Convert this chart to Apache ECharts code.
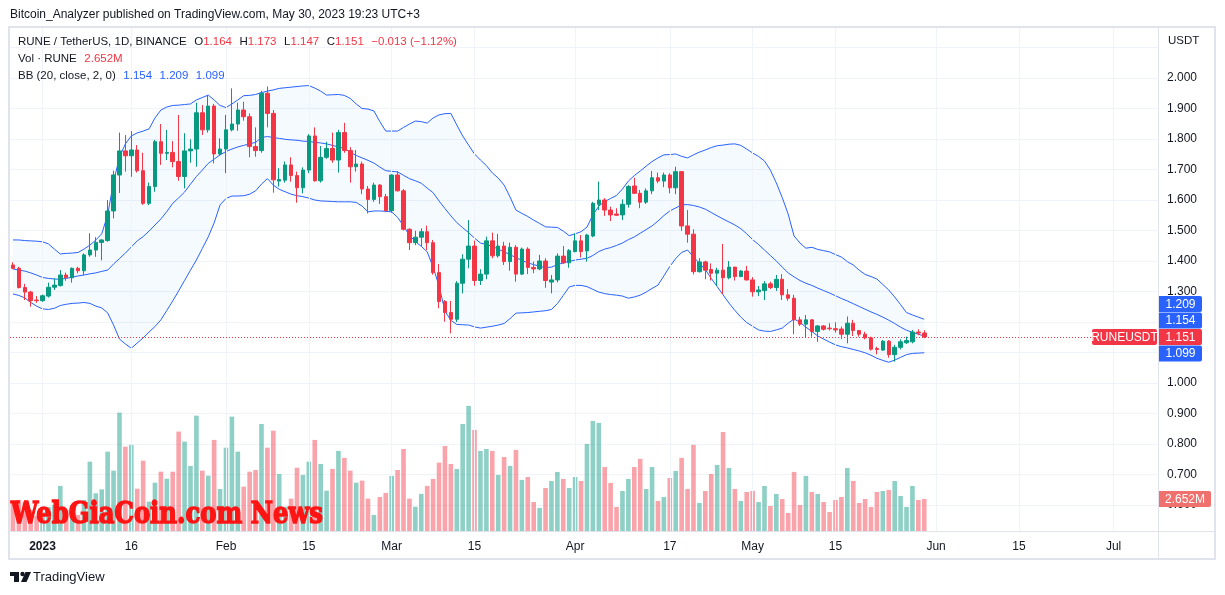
<!DOCTYPE html>
<html><head><meta charset="utf-8">
<script src="https://cdn.jsdelivr.net/npm/echarts@6/dist/echarts.min.js"></script>
<style>html,body{margin:0;padding:0;background:#fff;}#c{width:1225px;height:595px;}</style>
</head><body><div id="c"></div>
<script>
// ---------- data ----------
const publishLine = 'Bitcoin_Analyzer published on TradingView.com, May 30, 2023 19:23 UTC+3';
const symbolTitle = 'RUNE / TetherUS, 1D, BINANCE';
const volTitle = 'Vol \u00b7 RUNE';
const bbTitle = 'BB (20, close, 2, 0)';
const unitLabel = 'USDT';
const tickerLabel = 'RUNEUSDT';
const watermark = 'WebGiaCoin.com News';
const firstDate = '2022-12-27';
const categoryCount = 194;

const tickDates = ['2023-01-01','2023-01-16','2023-02-01','2023-02-15','2023-03-01','2023-03-15','2023-04-01','2023-04-17','2023-05-01','2023-05-15','2023-06-01','2023-06-15','2023-07-01'];
const tickTexts = ['2023','16','Feb','15','Mar','15','Apr','17','May','15','Jun','15','Jul'];

const opens = [1.387,1.376,1.313,1.298,1.272,
1.270,1.285,1.314,1.320,1.354,1.345,1.376,1.368,1.420,1.436,1.461,1.467,1.564,1.682,1.761,1.745,1.764,1.696,1.589,1.644,1.791,1.753,1.756,1.726,1.677,1.761,1.767,1.886,1.830,1.908,1.751,
1.767,1.830,1.849,1.895,1.873,1.775,1.762,1.950,1.884,1.662,1.665,1.715,1.680,1.640,1.698,1.810,1.663,1.740,1.769,1.731,1.821,1.762,1.709,1.718,1.636,1.602,1.649,1.611,
1.565,1.682,1.630,1.504,1.460,1.478,1.496,1.460,1.362,1.267,1.231,1.209,1.327,1.406,1.449,1.336,1.357,1.466,1.417,1.449,1.398,1.445,1.357,1.439,1.379,1.374,1.400,1.331,1.338,1.416,1.394,
1.431,1.466,1.433,1.482,1.586,1.600,1.567,1.554,1.551,1.586,1.646,1.622,1.593,1.630,1.673,1.662,1.682,1.640,1.693,1.515,1.488,1.365,1.397,1.372,1.360,1.370,1.345,1.380,1.349,1.367,
1.338,1.299,1.303,1.325,1.313,1.340,1.289,1.278,1.207,1.193,1.207,1.169,1.187,1.180,1.178,1.177,1.160,1.196,1.172,1.160,1.148,1.113,1.108,1.137,1.093,1.117,1.132,1.135,1.167,1.164];

const closes = [1.376,1.313,1.298,1.270,1.270,
1.286,1.314,1.321,1.354,1.345,1.376,1.368,1.420,1.436,1.461,1.469,1.564,1.682,1.761,1.745,1.764,1.696,1.589,1.644,1.791,1.753,1.756,1.726,1.677,1.761,1.767,1.886,1.830,1.908,1.751,1.767,
1.830,1.849,1.895,1.873,1.775,1.762,1.950,1.884,1.666,1.667,1.715,1.680,1.640,1.698,1.810,1.663,1.740,1.769,1.731,1.821,1.762,1.709,1.718,1.636,1.602,1.649,1.611,1.565,
1.682,1.630,1.504,1.460,1.478,1.496,1.460,1.362,1.267,1.231,1.209,1.327,1.406,1.449,1.336,1.357,1.466,1.417,1.449,1.398,1.445,1.357,1.439,1.379,1.374,1.400,1.336,1.338,1.416,1.394,1.434,
1.466,1.431,1.485,1.589,1.600,1.567,1.551,1.550,1.586,1.644,1.622,1.593,1.630,1.673,1.662,1.682,1.640,1.693,1.515,1.488,1.365,1.397,1.370,1.360,1.370,1.345,1.380,1.349,1.367,1.338,
1.299,1.305,1.325,1.313,1.340,1.289,1.278,1.207,1.193,1.207,1.169,1.187,1.176,1.178,1.174,1.160,1.196,1.172,1.160,1.148,1.111,1.110,1.137,1.093,1.117,1.135,1.139,1.167,1.164,1.151];

const highs = [1.396,1.381,1.325,1.302,1.285,
1.290,1.329,1.343,1.370,1.362,1.379,1.381,1.425,1.491,1.478,1.471,1.600,1.696,1.821,1.813,1.826,1.780,1.755,1.657,1.797,1.849,1.830,1.793,1.879,1.819,1.799,1.919,1.911,1.944,1.915,1.802,
1.879,1.966,1.919,1.922,1.884,1.838,1.958,1.972,1.895,1.704,1.726,1.740,1.693,1.707,1.816,1.838,1.777,1.791,1.821,1.830,1.853,1.773,1.764,1.726,1.646,1.657,1.652,1.620,
1.684,1.695,1.636,1.507,1.499,1.507,1.516,1.469,1.390,1.272,1.269,1.334,1.422,1.534,1.467,1.373,1.480,1.493,1.489,1.463,1.460,1.452,1.444,1.445,1.398,1.420,1.409,1.354,1.425,1.449,1.439,
1.491,1.485,1.489,1.594,1.660,1.606,1.578,1.573,1.602,1.649,1.673,1.633,1.638,1.695,1.690,1.690,1.688,1.709,1.695,1.567,1.504,1.409,1.401,1.392,1.378,1.456,1.400,1.381,1.370,1.384,
1.347,1.318,1.334,1.332,1.354,1.357,1.308,1.289,1.217,1.223,1.209,1.190,1.190,1.196,1.199,1.185,1.218,1.207,1.174,1.168,1.152,1.119,1.141,1.141,1.125,1.143,1.152,1.174,1.176,1.173];

const lows = [1.373,1.310,1.272,1.250,1.263,
1.266,1.280,1.305,1.316,1.335,1.329,1.360,1.354,1.414,1.414,1.402,1.463,1.540,1.623,1.693,1.676,1.690,1.584,1.583,1.627,1.715,1.731,1.707,1.663,1.638,1.722,1.709,1.813,1.821,1.720,1.744,
1.688,1.825,1.827,1.860,1.740,1.742,1.755,1.838,1.624,1.644,1.657,1.660,1.591,1.622,1.688,1.660,1.657,1.735,1.722,1.690,1.755,1.657,1.693,1.619,1.556,1.594,1.587,1.560,
1.558,1.628,1.500,1.436,1.452,1.449,1.436,1.355,1.245,1.201,1.163,1.200,1.294,1.376,1.319,1.321,1.340,1.409,1.411,1.387,1.368,1.332,1.354,1.357,1.360,1.370,1.312,1.294,1.330,1.390,1.378,
1.428,1.412,1.398,1.478,1.567,1.548,1.531,1.548,1.534,1.575,1.620,1.573,1.587,1.619,1.655,1.642,1.622,1.619,1.499,1.460,1.356,1.362,1.340,1.336,1.318,1.292,1.340,1.336,1.347,1.336,
1.283,1.285,1.272,1.308,1.302,1.272,1.270,1.160,1.187,1.149,1.152,1.135,1.172,1.172,1.165,1.144,1.130,1.154,1.152,1.143,1.106,1.094,1.105,1.083,1.070,1.110,1.128,1.130,1.157,1.147];

// volume in millions RUNE
const volumes = [2.40,2.57,2.40,1.74,1.24,
1.57,1.99,2.15,3.73,1.74,2.15,1.33,2.57,5.74,3.12,3.45,6.57,5.00,9.80,6.98,7.13,3.50,5.82,2.43,4.00,4.91,4.33,4.91,8.23,7.40,5.39,9.55,5.00,4.58,7.54,3.48,
6.90,9.47,6.57,3.67,4.91,5.05,8.86,6.90,8.31,4.72,2.01,2.68,5.24,4.64,5.74,7.54,5.55,3.34,5.14,6.63,6.05,5.00,4.00,4.17,2.68,1.33,2.82,3.15,
4.56,5.05,6.79,2.68,2.01,3.07,3.73,4.31,5.66,7.04,5.55,5.14,8.86,10.36,8.37,6.63,6.79,6.63,4.64,6.13,5.39,6.71,4.23,4.47,2.40,1.91,3.56,4.14,4.89,4.31,3.56,
4.47,4.14,7.21,9.11,8.95,5.30,3.98,1.99,3.31,4.31,5.30,5.97,3.48,5.30,2.49,2.82,4.39,4.97,6.05,3.48,7.13,2.32,3.31,4.72,5.47,8.20,5.22,3.48,2.49,3.23,
3.31,2.40,3.73,2.07,3.07,2.65,1.49,4.89,2.15,4.56,3.23,3.07,2.40,1.57,2.57,2.82,5.22,4.14,2.32,2.65,1.99,3.23,3.31,3.40,4.14,2.90,1.99,3.73,2.57,2.652];

const bbUpper = [1.469,1.469,1.467,1.466,1.465,
1.463,1.456,1.439,1.423,1.425,1.426,1.428,1.439,1.452,1.469,1.489,1.551,1.659,1.741,1.784,1.810,1.820,1.826,1.833,1.869,1.895,1.905,1.910,1.911,1.913,1.915,1.928,1.936,1.944,1.928,1.910,
1.903,1.915,1.928,1.942,1.943,1.946,1.952,1.957,1.961,1.966,1.968,1.970,1.972,1.974,1.975,1.967,1.957,1.944,1.945,1.946,1.943,1.933,1.915,1.900,1.898,1.892,1.857,1.826,
1.826,1.826,1.838,1.849,1.859,1.857,1.852,1.869,1.879,1.883,1.884,1.846,1.810,1.780,1.751,1.731,1.713,1.689,1.672,1.649,1.610,1.567,1.556,1.546,1.534,1.523,1.512,1.511,1.510,1.498,1.483,
1.489,1.496,1.511,1.551,1.580,1.595,1.605,1.615,1.636,1.662,1.680,1.695,1.711,1.726,1.738,1.748,1.749,1.751,1.743,1.738,1.748,1.757,1.764,1.772,1.778,1.780,1.783,1.784,1.779,1.767,
1.754,1.743,1.728,1.698,1.656,1.608,1.554,1.482,1.459,1.442,1.445,1.438,1.434,1.430,1.421,1.413,1.398,1.387,1.370,1.356,1.349,1.341,1.323,1.305,1.282,1.257,1.231,1.223,1.216,1.209];

const bbBasis = [1.374,1.370,1.367,1.361,1.354,
1.346,1.343,1.341,1.340,1.343,1.347,1.351,1.354,1.358,1.361,1.366,1.370,1.390,1.408,1.426,1.446,1.466,1.480,1.498,1.518,1.538,1.562,1.589,1.607,1.626,1.652,1.677,1.698,1.720,1.734,1.748,
1.759,1.767,1.774,1.779,1.784,1.789,1.805,1.808,1.805,1.802,1.799,1.797,1.796,1.793,1.792,1.789,1.787,1.784,1.779,1.774,1.769,1.757,1.746,1.738,1.730,1.721,1.708,1.696,
1.694,1.692,1.681,1.670,1.663,1.655,1.639,1.624,1.597,1.572,1.548,1.526,1.509,1.493,1.475,1.459,1.454,1.448,1.439,1.430,1.421,1.411,1.402,1.394,1.388,1.383,1.378,1.380,1.388,1.394,1.399,
1.403,1.406,1.409,1.418,1.431,1.439,1.444,1.451,1.459,1.470,1.479,1.491,1.503,1.515,1.531,1.549,1.564,1.574,1.584,1.585,1.582,1.577,1.570,1.559,1.548,1.538,1.528,1.518,1.506,1.489,
1.470,1.454,1.436,1.418,1.400,1.380,1.361,1.348,1.336,1.327,1.320,1.311,1.303,1.295,1.286,1.277,1.269,1.260,1.251,1.242,1.233,1.225,1.216,1.206,1.195,1.183,1.173,1.166,1.160,1.154];

const bbLower = [1.292,1.287,1.279,1.264,1.252,
1.243,1.241,1.245,1.254,1.258,1.261,1.262,1.264,1.261,1.252,1.246,1.230,1.190,1.144,1.128,1.114,1.131,1.148,1.167,1.185,1.207,1.238,1.269,1.302,1.336,1.370,1.403,1.441,1.479,1.525,1.584,
1.605,1.613,1.613,1.614,1.619,1.630,1.652,1.670,1.649,1.635,1.627,1.619,1.614,1.611,1.606,1.600,1.597,1.596,1.595,1.594,1.594,1.594,1.592,1.580,1.561,1.564,1.564,1.563,
1.561,1.543,1.515,1.484,1.464,1.448,1.430,1.380,1.318,1.236,1.205,1.192,1.191,1.190,1.184,1.180,1.183,1.186,1.190,1.195,1.211,1.229,1.230,1.231,1.233,1.235,1.237,1.241,1.260,1.287,1.315,
1.320,1.320,1.316,1.307,1.298,1.293,1.290,1.288,1.285,1.278,1.282,1.288,1.298,1.310,1.321,1.351,1.382,1.408,1.428,1.436,1.413,1.393,1.372,1.343,1.316,1.289,1.262,1.238,1.216,1.198,
1.186,1.174,1.170,1.169,1.174,1.180,1.196,1.210,1.199,1.183,1.169,1.154,1.144,1.134,1.125,1.119,1.115,1.110,1.105,1.099,1.091,1.081,1.074,1.068,1.075,1.084,1.093,1.097,1.098,1.099];

// ---------- styling ----------
const FONT = '"Liberation Sans", Arial, sans-serif';
const C_TEXT = '#131722', C_UP = '#089981', C_DN = '#f23645', C_BB = '#2962ff';
const C_GRID = '#f0f3fa', C_FRAME = '#e0e3eb';

// categories (one per calendar day)
const dates = [];
{
  const t0 = Date.parse(firstDate + 'T00:00:00Z');
  for (let i = 0; i < categoryCount; i++) dates.push(new Date(t0 + i * 86400000).toISOString().slice(0, 10));
}
const tickMap = {};
tickDates.forEach((d, i) => { tickMap[d] = tickTexts[i]; });

const candleData = opens.map((o, i) => [o, closes[i], lows[i], highs[i]]);
const volData = volumes.map((v, i) => ({
  value: v,
  itemStyle: { color: closes[i] >= opens[i] ? 'rgba(8,153,129,0.46)' : 'rgba(242,54,69,0.46)' }
}));
const bbWidth = bbUpper.map((u, i) => +(u - bbLower[i]).toFixed(4));
const nullSeries = dates.map(() => null);

const f3 = v => v.toFixed(3);
const lastO = opens[opens.length - 1], lastH = highs[highs.length - 1], lastL = lows[lows.length - 1], lastC = closes[closes.length - 1];
const prevC = closes[closes.length - 2];
const chg = lastC - prevC;
const minus = '\u2212';
const chgText = (chg < 0 ? minus : '+') + Math.abs(chg).toFixed(3) + ' (' + (chg < 0 ? minus : '+') + Math.abs(chg / prevC * 100).toFixed(2) + '%)';
const lastVol = volumes[volumes.length - 1];

const PRICE_MIN = 0.6, PRICE_MAX = 2.1672;
const VOL_MAX = 12.5;

const chart = echarts.init(document.getElementById('c'), null, { renderer: 'canvas' });

const vGridMark = {
  silent: true, symbol: ['none', 'none'], label: { show: false },
  lineStyle: { color: C_GRID, type: 'solid', width: 1 },
  emphasis: { disabled: true },
  data: tickDates.map(d => ({ xAxis: d })),
  animation: false
};

const option = {
  animation: false,
  backgroundColor: '#ffffff',
  textStyle: { fontFamily: FONT },
  grid: [
    { left: 10, right: 67, top: 27, height: 478, outerBoundsMode: 'none', containLabel: false },
    { left: 10, right: 67, top: 380, height: 151, outerBoundsMode: 'none', containLabel: false }
  ],
  xAxis: [
    { type: 'category', gridIndex: 0, data: dates, boundaryGap: true,
      axisLine: { show: false }, axisTick: { show: false }, axisLabel: { show: false }, splitLine: { show: false } },
    { type: 'category', gridIndex: 1, data: dates, boundaryGap: true,
      axisLine: { show: false }, axisTick: { show: false }, splitLine: { show: false },
      axisLabel: {
        interval: (idx, val) => tickMap[val] !== undefined,
        formatter: val => (val.endsWith('-01-01') ? '{y|' + tickMap[val] + '}' : (tickMap[val] || '')),
        rich: { y: { fontWeight: 'bold', fontSize: 12, color: C_TEXT, fontFamily: FONT } },
        color: C_TEXT, fontSize: 12, fontFamily: FONT, margin: 10
      } }
  ],
  yAxis: [
    { type: 'value', gridIndex: 0, position: 'right', min: PRICE_MIN, max: PRICE_MAX, interval: 0.1,
      axisLine: { show: false }, axisTick: { show: false },
      axisLabel: { color: C_TEXT, fontSize: 12, fontFamily: FONT, margin: 9, showMaxLabel: false,
        formatter: v => (v > 2.05 ? '' : v.toFixed(3)) },
      splitLine: { show: true, showMaxLine: false, lineStyle: { color: C_GRID, width: 1 } } },
    { type: 'value', gridIndex: 1, min: 0, max: VOL_MAX, show: false, splitLine: { show: false } }
  ],
  series: [
    { name: 'gridTop', type: 'line', xAxisIndex: 0, yAxisIndex: 0, data: nullSeries, z: 0, silent: true,
      symbol: 'none', lineStyle: { opacity: 0 }, markLine: vGridMark },
    { name: 'gridBottom', type: 'line', xAxisIndex: 1, yAxisIndex: 1, data: nullSeries, z: 0, silent: true,
      symbol: 'none', lineStyle: { opacity: 0 }, markLine: vGridMark },
    { name: 'Volume', type: 'bar', xAxisIndex: 1, yAxisIndex: 1, data: volData, barWidth: '78%', z: 1, silent: true },
    { name: 'bbBase', type: 'line', xAxisIndex: 0, yAxisIndex: 0, data: bbLower, stack: 'bb', symbol: 'none',
      lineStyle: { opacity: 0 }, z: 1, silent: true },
    { name: 'bbFill', type: 'line', xAxisIndex: 0, yAxisIndex: 0, data: bbWidth, stack: 'bb', symbol: 'none',
      lineStyle: { opacity: 0 }, areaStyle: { color: 'rgba(33,150,243,0.06)' }, z: 1, silent: true },
    { name: 'bbUpper', type: 'line', data: bbUpper, symbol: 'none', lineStyle: { color: C_BB, width: 1 }, z: 2, silent: true },
    { name: 'bbBasis', type: 'line', data: bbBasis, symbol: 'none', lineStyle: { color: C_BB, width: 1 }, z: 2, silent: true },
    { name: 'bbLower', type: 'line', data: bbLower, symbol: 'none', lineStyle: { color: C_BB, width: 1 }, z: 2, silent: true },
    { name: 'RUNEUSDT', type: 'candlestick', xAxisIndex: 0, yAxisIndex: 0, data: candleData, barWidth: 4, z: 5, silent: true,
      itemStyle: { color: C_UP, color0: C_DN, borderColor: C_UP, borderColor0: C_DN, borderWidth: 1 },
      markLine: { silent: true, symbol: ['none', 'none'], label: { show: false }, animation: false,
        lineStyle: { color: C_DN, type: [1, 2], width: 1 }, emphasis: { disabled: true },
        data: [{ yAxis: lastC }] } }
  ]
};
chart.setOption(option);

// ---------- decorations & labels ----------
const yP = v => chart.convertToPixel({ yAxisIndex: 0 }, v);
const yV = v => chart.convertToPixel({ yAxisIndex: 1 }, v);

function txt(x, y, text, opts) {
  opts = opts || {};
  return { type: 'text', z: opts.z || 50, silent: true,
    style: Object.assign({ x, y, text, fill: opts.fill || C_TEXT, font: opts.font || ('12px ' + FONT),
      align: opts.align || 'left', verticalAlign: 'middle', textAlign: opts.align || 'left', textVerticalAlign: 'middle' },
      opts.extra || {}) };
}
function tag(x, cy, w, text, color, r) {
  const h = 16;
  return [
    { type: 'rect', z: 60, silent: true, shape: { x, y: cy - h / 2, width: w, height: h, r: r || [0, 2, 2, 0] }, style: { fill: color } },
    txt(x + w / 2, cy + 0.5, text, { fill: '#ffffff', align: 'center', z: 61 })
  ];
}

const rich = {
  d: { fill: C_TEXT, fontSize: 11.5, fontFamily: FONT },
  r: { fill: C_DN, fontSize: 11.5, fontFamily: FONT },
  b: { fill: C_BB, fontSize: 11.5, fontFamily: FONT },
  g: { width: 7.5 }
};
const line1 = '{d|' + symbolTitle + '}{g|}{d|O}{r|' + f3(lastO) + '}{g|}{d|H}{r|' + f3(lastH) + '}{g|}{d|L}{r|' + f3(lastL) +
  '}{g|}{d|C}{r|' + f3(lastC) + '}{g|}{r|' + chgText + '}';
const line2 = '{d|' + volTitle + '}{g|}{r|' + lastVol.toFixed(3) + 'M}';
const line3 = '{d|' + bbTitle + '}{g|}{b|' + f3(bbBasis[bbBasis.length - 1]) + '}{g|}{b|' + f3(bbUpper[bbUpper.length - 1]) +
  '}{g|}{b|' + f3(bbLower[bbLower.length - 1]) + '}';

// watermark width fit
const mc = document.createElement('canvas').getContext('2d');
const wmFont = 'bold 30px "DejaVu Serif", "Liberation Serif", serif';
mc.font = wmFont;
const wmScale = 312 / mc.measureText(watermark).width;

const yc = yP(lastC);
const graphics = [
  // frame
  { type: 'rect', z: 40, silent: true, shape: { x: 9, y: 27, width: 1206, height: 532 }, style: { fill: 'none', stroke: C_FRAME, lineWidth: 2 } },
  { type: 'line', z: 40, silent: true, shape: { x1: 1158.5, y1: 27, x2: 1158.5, y2: 559 }, style: { stroke: C_FRAME, lineWidth: 1 } },
  { type: 'line', z: 40, silent: true, shape: { x1: 9, y1: 531.5, x2: 1215, y2: 531.5 }, style: { stroke: C_FRAME, lineWidth: 1 } },
  txt(10, 15, publishLine, { font: '12px ' + FONT }),
  txt(18, 42, line1, { extra: { rich } }),
  txt(18, 59, line2, { extra: { rich } }),
  txt(18, 76, line3, { extra: { rich } }),
  txt(1168, 41, unitLabel, { font: '11.5px ' + FONT }),
  // watermark
  { type: 'text', z: 55, silent: true, x: 11, y: 515, scaleX: wmScale, scaleY: 1,
    style: { x: 0, y: 0, text: watermark, fill: '#ff1414', stroke: '#ff1414', lineWidth: 1.6, font: wmFont,
      align: 'left', verticalAlign: 'middle', textAlign: 'left', textVerticalAlign: 'middle' } },
  // TradingView footer
  { type: 'rect', z: 50, silent: true, shape: { x: 10, y: 572, width: 9, height: 4 }, style: { fill: C_TEXT } },
  { type: 'rect', z: 50, silent: true, shape: { x: 14, y: 572, width: 5, height: 10 }, style: { fill: C_TEXT } },
  { type: 'circle', z: 50, silent: true, shape: { cx: 22.5, cy: 574, r: 2.2 }, style: { fill: C_TEXT } },
  { type: 'polygon', z: 50, silent: true, shape: { points: [[25.5, 572], [31, 572], [26.5, 582], [21, 582]] }, style: { fill: C_TEXT } },
  txt(33, 577.5, 'TradingView', { font: '13px ' + FONT })
];
graphics.push(...tag(1092, yc, 65, tickerLabel, C_DN, 2));
graphics.push(...tag(1159, yc - 33, 43, f3(bbUpper[bbUpper.length - 1]), C_BB));
graphics.push(...tag(1159, yc - 16.5, 43, f3(bbBasis[bbBasis.length - 1]), C_BB));
graphics.push(...tag(1159, yc, 43, f3(lastC), C_DN));
graphics.push(...tag(1159, Math.max(yP(bbLower[bbLower.length - 1]), yc + 16.5), 43, f3(bbLower[bbLower.length - 1]), C_BB));
graphics.push(...tag(1159, yV(lastVol), 52, lastVol.toFixed(3) + 'M', '#f0706e'));

chart.setOption({ graphic: { elements: graphics } });
</script></body></html>
